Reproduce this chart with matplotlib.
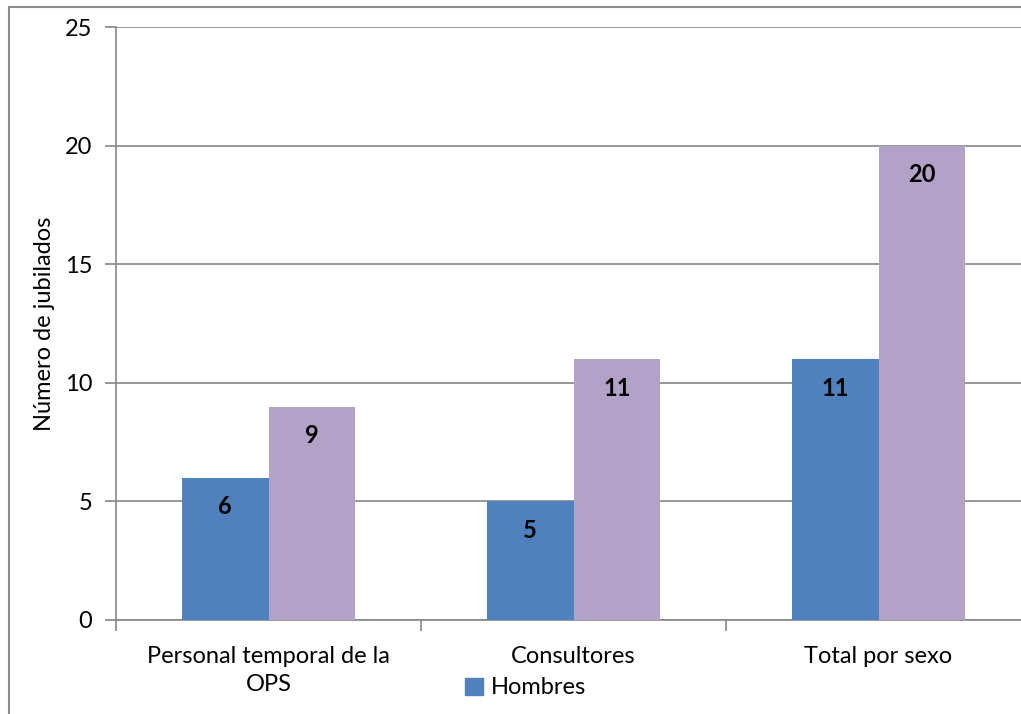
import matplotlib
matplotlib.use("Agg")
import matplotlib.pyplot as plt
from matplotlib.patches import Rectangle, Patch
import numpy as np

categories = ["Personal temporal de la\nOPS", "Consultores", "Total por sexo"]
series_names = ["Hombres", "Mujeres"]
hombres = [6, 5, 11]
mujeres = [9, 11, 20]
yticks = [0, 5, 10, 15, 20, 25]

plt.rcParams['font.family'] = ['Lato', 'DejaVu Sans']

W, H = 1021, 714
fig = plt.figure(figsize=(W / 100, H / 100), dpi=100)
ax = fig.add_axes([116 / W, 1 - 620 / H, (1031 - 116) / W, (620 - 27) / H])

blue = "#4F81BD"
purple = "#B3A2C7"
grid = "#868686"
fs = 17

x = np.arange(len(categories))
bw = 0.284
b1 = ax.bar(x - bw / 2, hombres, bw, color=blue, label=series_names[0], zorder=3)
b2 = ax.bar(x + bw / 2, mujeres, bw, color=purple, label=series_names[1], zorder=3)

for bars, vals in ((b1, hombres), (b2, mujeres)):
    for r, v in zip(bars, vals):
        ax.annotate(str(v), (r.get_x() + r.get_width() / 2, v), xytext=(0, -21),
                    textcoords="offset points", ha="center", va="center",
                    fontsize=fs, fontweight="bold", zorder=4)

ax.set_xlim(-0.5, 2.5)
ax.set_ylim(0, 25)
ax.set_yticks(yticks)
ax.set_yticklabels([str(t) for t in yticks], fontsize=fs)
ax.yaxis.grid(True, color=grid, linewidth=1.2, zorder=0)
ax.set_axisbelow(True)

ax.set_xticks(x)
ax.set_xticklabels(categories, fontsize=fs, linespacing=1.4)
ax.tick_params(axis='x', length=0, pad=19)
ax.set_xticks([-0.5, 0.5, 1.5, 2.5], minor=True)
ax.tick_params(axis='x', which='minor', length=8, color=grid, width=1.2, direction='out')
ax.tick_params(axis='y', length=8, color=grid, width=1.2, direction='out', pad=9)

for s in ("top", "right"):
    ax.spines[s].set_visible(False)
for s in ("left", "bottom"):
    ax.spines[s].set_color(grid)
    ax.spines[s].set_linewidth(1.2)

ax.set_ylabel("Número de jubilados", fontsize=fs, labelpad=7)

handles = [Patch(color=blue)]
fig.legend(handles, [series_names[0]], loc="center left",
           bbox_to_anchor=(465 / W, 1 - 688 / H), frameon=False, fontsize=fs,
           handlelength=0.75, handleheight=0.75, handletextpad=0.35, borderaxespad=0,
           borderpad=0)

fig.patches.append(Rectangle((9 / W, -0.1), 1.2, 1 - 7 / H + 0.1, transform=fig.transFigure,
                             fill=False, edgecolor="#8C8C8C", linewidth=1.5))

fig.savefig("out.png", dpi=100)
